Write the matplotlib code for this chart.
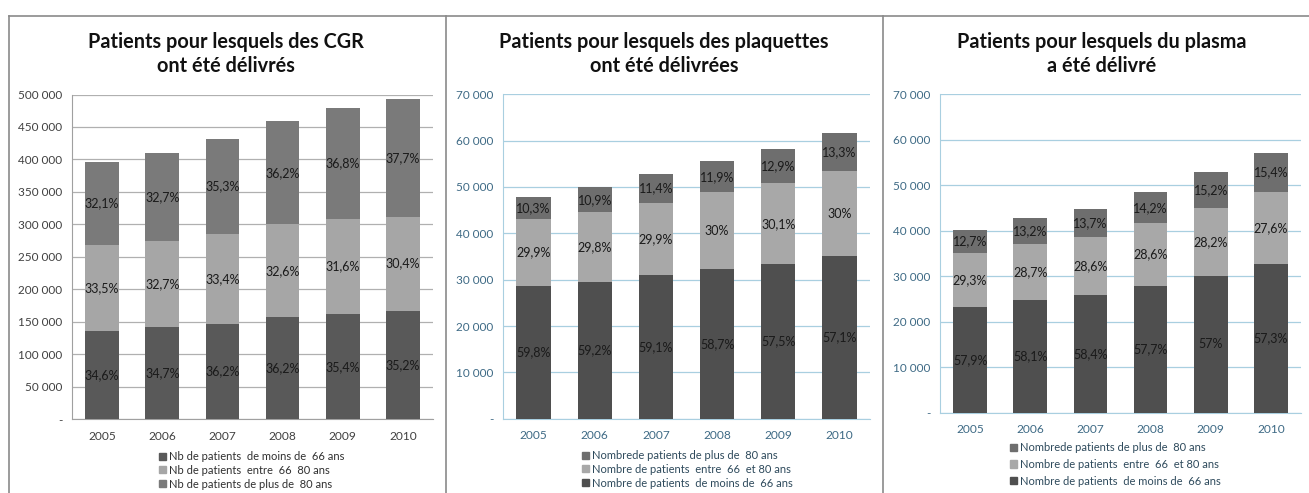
import matplotlib
matplotlib.use('Agg')
import matplotlib.pyplot as plt
from matplotlib.lines import Line2D
from matplotlib.patches import Patch
import numpy as np

plt.rcParams['font.family'] = ['Lato', 'DejaVu Sans']

years = ['2005', '2006', '2007', '2008', '2009', '2010']

# CGR
cgr_moins = [136000, 141500, 147000, 157500, 162000, 167500]
cgr_entre = [133000, 133500, 139000, 142500, 147000, 144500]
cgr_plus = [127000, 134500, 145000, 158500, 169500, 181000]
cgr_moins_pct = ['34,6%', '34,7%', '36,2%', '36,2%', '35,4%', '35,2%']
cgr_entre_pct = ['33,5%', '32,7%', '33,4%', '32,6%', '31,6%', '30,4%']
cgr_plus_pct = ['32,1%', '32,7%', '35,3%', '36,2%', '36,8%', '37,7%']

# plaquettes
plaq_moins = [28700, 29600, 31000, 32300, 33300, 35100]
plaq_entre = [14400, 14900, 15600, 16600, 17500, 18300]
plaq_plus = [4800, 5400, 6100, 6600, 7300, 8200]
plaq_moins_pct = ['59,8%', '59,2%', '59,1%', '58,7%', '57,5%', '57,1%']
plaq_entre_pct = ['29,9%', '29,8%', '29,9%', '30%', '30,1%', '30%']
plaq_plus_pct = ['10,3%', '10,9%', '11,4%', '11,9%', '12,9%', '13,3%']

# plasma
plas_moins = [23300, 24800, 26000, 27900, 30100, 32700]
plas_entre = [11900, 12300, 12700, 13800, 14900, 15800]
plas_plus = [5100, 5700, 6000, 6800, 8000, 8600]
plas_moins_pct = ['57,9%', '58,1%', '58,4%', '57,7%', '57%', '57,3%']
plas_entre_pct = ['29,3%', '28,7%', '28,6%', '28,6%', '28,2%', '27,6%']
plas_plus_pct = ['12,7%', '13,2%', '13,7%', '14,2%', '15,2%', '15,4%']

W, H = 1309, 493
fig = plt.figure(figsize=(W / 100, H / 100), dpi=100)

def px_axes(left, top, right, bottom):
    return fig.add_axes([left / W, 1 - bottom / H, (right - left) / W, (bottom - top) / H])

def fmt(v):
    if v == 0:
        return '-'
    return '{:,}'.format(int(v)).replace(',', ' ')

def stacked(ax, seg, pcts, colors, ymax, step, grid_col, tick_col, spine_col):
    x = np.arange(len(years))
    bottom = np.zeros(len(years))
    for vals, labs, c in zip(seg, pcts, colors):
        ax.bar(x, vals, 0.56, bottom=bottom, color=c, zorder=3)
        for xi, v, b0, t in zip(x, vals, bottom, labs):
            ax.text(xi, b0 + v / 2, t, ha='center', va='center', fontsize=9, color='#1a1a1a', zorder=4)
        bottom = bottom + np.array(vals)
    ax.set_xlim(-0.5, len(years) - 0.5)
    ax.set_ylim(0, ymax)
    ticks = np.arange(0, ymax + 1, step)
    ax.set_yticks(ticks)
    ax.set_yticklabels([fmt(t) for t in ticks])
    ax.set_xticks(x)
    ax.set_xticklabels(years)
    ax.tick_params(length=0, labelsize=8.5, colors=tick_col)
    ax.tick_params(axis='x', pad=8, labelsize=8.6)
    ax.tick_params(axis='y', pad=7)
    ax.grid(axis='y', color=grid_col, lw=0.9, zorder=0)
    for s in ['top', 'right']:
        ax.spines[s].set_visible(False)
    ax.spines['left'].set_color(spine_col)
    ax.spines['bottom'].set_color(spine_col)

leg_kw = dict(loc='upper left', bbox_transform=fig.transFigure, frameon=False, fontsize=8,
              handlelength=0.6, handleheight=0.6, handletextpad=0.3,
              borderpad=0, borderaxespad=0)

# panel 1
ax1 = px_axes(72, 94.5, 433, 419.4)
c1 = ['#595959', '#a6a6a6', '#7a7a7a']
stacked(ax1, [cgr_moins, cgr_entre, cgr_plus], [cgr_moins_pct, cgr_entre_pct, cgr_plus_pct],
        c1, 500000, 50000, '#b0b0b0', '#404040', '#a0a0a0')
ax1.legend([Patch(color=c) for c in c1],
           ['Nb de patients  de moins de  66 ans', 'Nb de patients  entre  66  80 ans', 'Nb de patients de plus de  80 ans'],
           bbox_to_anchor=(159 / W, 1 - 451 / H), labelspacing=0.25, labelcolor='#303030', **leg_kw)

# panel 2
ax2 = px_axes(503, 94.3, 870, 418.7)
c2 = ['#4f4f4f', '#a8a8a8', '#6e6e6e']
stacked(ax2, [plaq_moins, plaq_entre, plaq_plus], [plaq_moins_pct, plaq_entre_pct, plaq_plus_pct],
        c2, 70000, 10000, '#a9cfe0', '#3e6a85', '#a9cfe0')
ax2.legend([Patch(color=c) for c in c2[::-1]],
           ['Nombrede patients de plus de  80 ans', 'Nombre de patients  entre  66  et 80 ans', 'Nombre de patients  de moins de  66 ans'],
           bbox_to_anchor=(582 / W, 1 - 450 / H), labelspacing=0.25, labelcolor='#2e4a5c', **leg_kw)

# panel 3
ax3 = px_axes(940, 94.3, 1301, 413)
stacked(ax3, [plas_moins, plas_entre, plas_plus], [plas_moins_pct, plas_entre_pct, plas_plus_pct],
        c2, 70000, 10000, '#a9cfe0', '#3e6a85', '#a9cfe0')
ax3.legend([Patch(color=c) for c in c2[::-1]],
           ['Nombrede patients de plus de  80 ans', 'Nombre de patients  entre  66  et 80 ans', 'Nombre de patients  de moins de  66 ans'],
           bbox_to_anchor=(1010 / W, 1 - 442 / H), labelspacing=0.53, labelcolor='#2e4a5c', **leg_kw)

# titles
titles = [(226, 'Patients pour lesquels des CGR\nont été délivrés'),
          (664, 'Patients pour lesquels des plaquettes\nont été délivrées'),
          (1102, 'Patients pour lesquels du plasma\na été délivré')]
for xc, t in titles:
    fig.text(xc / W, 1 - 54 / H, t, ha='center', va='center', fontsize=14.3, fontweight='bold',
             linespacing=1.2, color='#111111')

# panel frames
fig.add_artist(Line2D([9 / W, 1], [1 - 16 / H, 1 - 16 / H], color='#8a8a8a', lw=1.2))
for xv in [9, 446, 883]:
    fig.add_artist(Line2D([xv / W, xv / W], [0, 1 - 16 / H], color='#8a8a8a', lw=1.2))

fig.savefig('out.png', dpi=100)
